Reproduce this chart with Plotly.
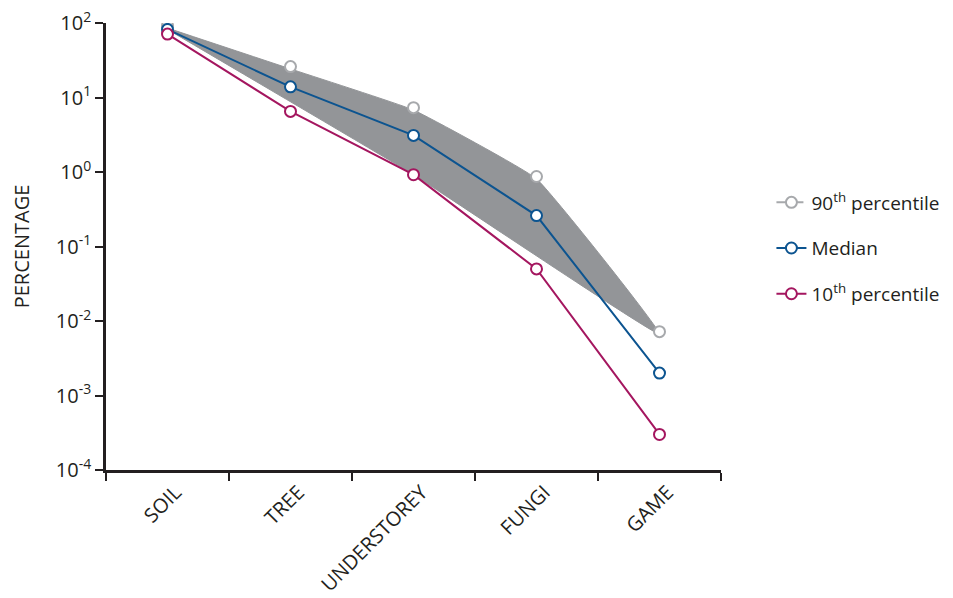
import plotly.graph_objects as go

categories = ["SOIL", "TREE", "UNDERSTOREY", "FUNGI", "GAME"]
p90 = [92, 26, 7.3, 0.87, 0.0072]
median = [82, 13.9, 3.1, 0.26, 0.002]
p10 = [71, 6.5, 0.92, 0.05, 0.0003]

y_tickvals = [1e-4, 1e-3, 1e-2, 1e-1, 1, 10, 100]
y_ticktext = ["10<sup>-4</sup>", "10<sup>-3</sup>", "10<sup>-2</sup>", "10<sup>-1</sup>",
              "10<sup>0</sup>", "10<sup>1</sup>", "10<sup>2</sup>"]

GRAY_FILL = "#939598"
GRAY = "#a7a9ac"
BLUE = "#0c5490"
MAGENTA = "#a4165f"
AXIS = "#231f20"
FONT = "Open Sans"

# band: upper edge follows 90th percentile, lower edge SOIL -> UNDERSTOREY -> GAME
band_x = categories + [categories[2], categories[0]]
band_y = [v * 0.93 for v in p90] + [p10[2], median[0]]

fig = go.Figure()
fig.add_trace(go.Scatter(
    x=band_x, y=band_y, mode="lines", fill="toself",
    fillcolor=GRAY_FILL, line=dict(color=GRAY_FILL, width=1, shape="spline", smoothing=0.3),
    showlegend=False, hoverinfo="skip"))

fig.add_trace(go.Scatter(
    x=categories, y=p90, mode="markers", name="90<sup>th</sup> percentile",
    marker=dict(symbol="circle", size=11, color="white", line=dict(color=GRAY, width=2)),
    showlegend=False))
fig.add_trace(go.Scatter(
    x=[None], y=[None], mode="lines+markers", name="90<sup>th</sup> percentile",
    line=dict(color=GRAY, width=2, dash="dash"),
    marker=dict(symbol="circle", size=11, color="white", line=dict(color=GRAY, width=2)),
    legendgroup="a"))
fig.add_trace(go.Scatter(
    x=categories, y=median, mode="lines+markers", name="Median",
    line=dict(color=BLUE, width=2),
    marker=dict(symbol="circle", size=11, color="white", line=dict(color=BLUE, width=2)),
    legendgroup="b"))
fig.add_trace(go.Scatter(
    x=categories, y=p10, mode="lines+markers", name="10<sup>th</sup> percentile",
    line=dict(color=MAGENTA, width=2),
    marker=dict(symbol="circle", size=11, color="white", line=dict(color=MAGENTA, width=2)),
    legendgroup="c"))

fig.update_layout(
    width=945, height=590,
    margin=dict(l=98, r=232, t=15, b=128, autoexpand=False),
    paper_bgcolor="white", plot_bgcolor="white",
    font=dict(family=FONT, color=AXIS, size=18),
    legend=dict(x=1.082, y=0.641, xanchor="left", yanchor="top",
                font=dict(size=19, color=AXIS), tracegroupgap=18,
                bgcolor="rgba(0,0,0,0)"),
    xaxis=dict(
        type="category", categoryorder="array", categoryarray=categories,
        range=[-0.5, 4.5], tickson="boundaries", automargin=False,
        showline=True, linecolor=AXIS, linewidth=2.5,
        ticks="outside", ticklen=8, tickwidth=2, tickcolor=AXIS,
        tickangle=-45, tickfont=dict(size=20, family=FONT, color=AXIS),
        ticklabelshift=8, ticklabeloverflow="allow",
        showgrid=False, zeroline=False),
    yaxis=dict(
        type="log", range=[-4, 2], automargin=False,
        tickvals=y_tickvals, ticktext=y_ticktext, ticklabeloverflow="allow",
        showline=True, linecolor=AXIS, linewidth=2.5,
        ticks="outside", ticklen=8, tickwidth=2, tickcolor=AXIS,
        tickfont=dict(size=20, family=FONT, color=AXIS),
        showgrid=False, zeroline=False,
        title=dict(text="PERCENTAGE", font=dict(size=20, family=FONT, color=AXIS), standoff=21)),
)

fig.write_html("out.html")
